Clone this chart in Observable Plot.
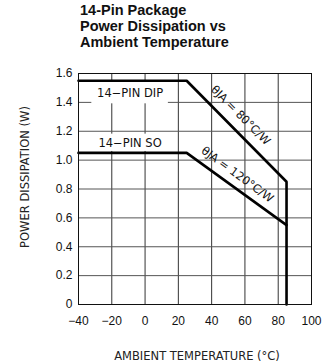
<!DOCTYPE html>
<html>
<head>
<meta charset="utf-8">
<script src="https://cdn.jsdelivr.net/npm/d3@7"></script>
<script src="https://cdn.jsdelivr.net/npm/@observablehq/plot@0.6"></script>
<style>
  body { margin: 0; background: #fff; width: 326px; height: 364px; overflow: hidden; }
  #title { box-sizing: border-box; height: 56px; padding: 2px 0 0 80px; font: bold 14.5px/16px "Liberation Sans Narrow", "Liberation Sans", Arial, sans-serif; color: #111; }
  #chart svg { display: block; }
</style>
</head>
<body>
<div id="title">14-Pin Package<br>Power Dissipation vs<br>Ambient Temperature</div>
<div id="chart"></div>
<script>
// ---- data ----
const xTicks = [-40, -20, 0, 20, 40, 60, 80, 100];
const yTicks = [0, 0.2, 0.4, 0.6, 0.8, 1.0, 1.2, 1.4, 1.6];
const yTickLabels = ["0", "0.2", "0.4", "0.6", "0.8", "1.0", "1.2", "1.4", "1.6"];
const dipTemp = [-40, 25, 85, 85];
const dipPower = [1.55, 1.55, 0.85, 0];
const soTemp = [-40, 25, 85];
const soPower = [1.05, 1.05, 0.55];
const packageLabels = ["14\u2212PIN DIP", "14\u2212PIN SO"];
const packageLabelPower = [1.465, 1.115];
const packageBoxLow = [1.39, 1.06];
const packageBoxHigh = [1.54, 1.18];
const thetaLabels = ["\u03B8JA = 80\u00B0C/W", "\u03B8JA = 120\u00B0C/W"];
const thetaTemp = [57.4, 55.5];
const thetaPower = [1.31, 0.90];
const xLabel = "AMBIENT TEMPERATURE (\u00B0C)";
const yLabel = "POWER DISSIPATION (W)";

const dip = dipTemp.map((t, i) => ({t, p: dipPower[i]}));
const so = soTemp.map((t, i) => ({t, p: soPower[i]}));
const boxes = packageLabels.map((s, i) => ({s, p: packageLabelPower[i], lo: packageBoxLow[i], hi: packageBoxHigh[i]}));
const thetas = thetaLabels.map((s, i) => ({s, t: thetaTemp[i], p: thetaPower[i]}));
const labelFont = "DejaVu Sans, sans-serif";

const chart = Plot.plot({
  width: 326,
  height: 308,
  marginTop: 17,
  marginBottom: 60,
  marginLeft: 78,
  marginRight: 15,
  style: {fontFamily: "Liberation Sans, Arial, sans-serif", fontSize: "12px", color: "#111", background: "#fff"},
  x: {domain: [-40, 100]},
  y: {domain: [0, 1.6]},
  marks: [
    Plot.ruleX(xTicks.slice(1, -1), {stroke: "#333", strokeWidth: 1}),
    Plot.ruleY(yTicks.slice(1, -1), {stroke: "#555", strokeWidth: 1}),
    Plot.rect(boxes, {x1: -32, x2: 14, y1: "lo", y2: "hi", fill: "#fff"}),
    Plot.text(boxes, {x: -9, y: "p", text: "s", fontFamily: labelFont, fontSize: 11.5, fill: "#111", letterSpacing: 1.2}),
    Plot.line(dip, {x: "t", y: "p", stroke: "#000", strokeWidth: 2.6, strokeLinejoin: "miter"}),
    Plot.line(so, {x: "t", y: "p", stroke: "#000", strokeWidth: 2.6, strokeLinejoin: "miter"}),
    Plot.text([thetas[0]], {x: "t", y: "p", text: "s", rotate: 45, fontFamily: labelFont, fontSize: 11.5, fill: "#111", letterSpacing: 1.4}),
    Plot.text([thetas[1]], {x: "t", y: "p", text: "s", rotate: 36, fontFamily: labelFont, fontSize: 11.5, fill: "#111", letterSpacing: 1.2}),
    Plot.frame({stroke: "#111", strokeWidth: 1}),
    Plot.axisX(xTicks, {tickSize: 0, tickPadding: 12, tickFormat: d => d < 0 ? "\u2212" + Math.abs(d) : String(d), label: null, fontSize: 12}),
    Plot.axisY(yTicks, {tickSize: 0, tickPadding: 6, tickFormat: d => yTickLabels[yTicks.indexOf(d)], label: null, fontSize: 12}),
    Plot.text([xLabel], {frameAnchor: "bottom", dy: 55, dx: 2, text: d => d, textAnchor: "middle", fontFamily: labelFont, fontSize: 11.5, fill: "#222", letterSpacing: 1.1}),
    Plot.text([yLabel], {frameAnchor: "left", dx: -53, dy: -12, rotate: -90, textAnchor: "middle", lineAnchor: "middle", text: d => d, fontFamily: labelFont, fontSize: 11.5, fill: "#222", letterSpacing: 0.6})
  ]
});
document.getElementById("chart").appendChild(chart);
</script>
</body>
</html>
